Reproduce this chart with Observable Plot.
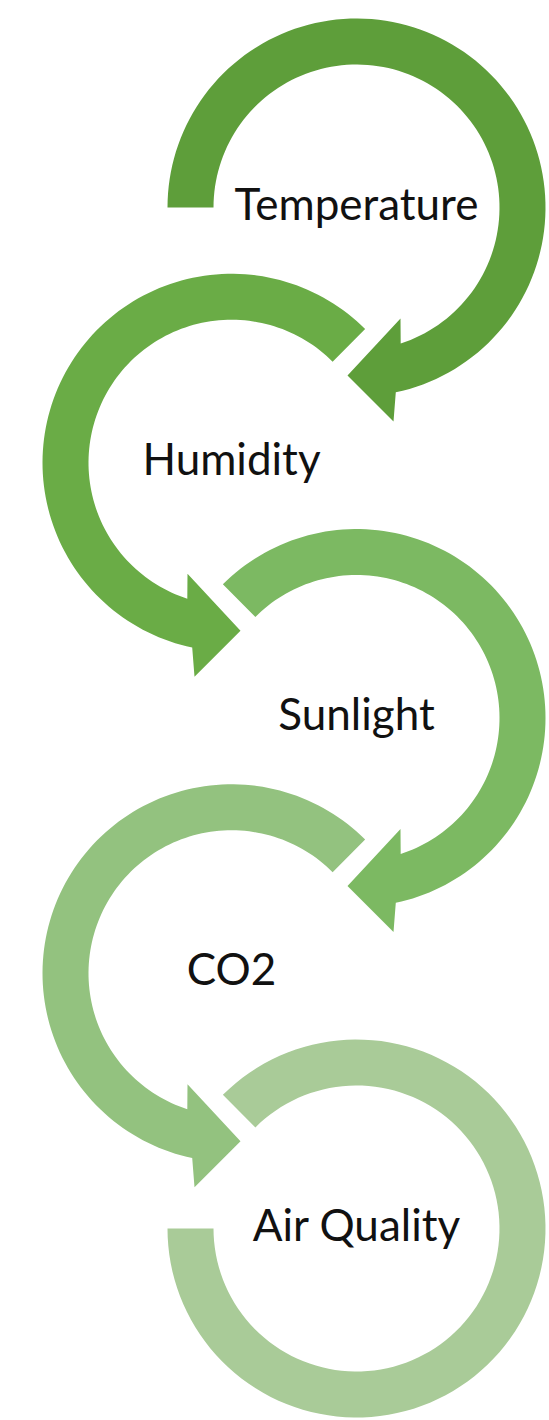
<!DOCTYPE html>
<html>
<head>
<meta charset="utf-8">
<script src="https://cdn.jsdelivr.net/npm/d3@7"></script>
<script src="https://cdn.jsdelivr.net/npm/@observablehq/plot@0.6"></script>
<style>
  html, body { margin: 0; padding: 0; background: #ffffff; }
  #chart svg { display: block; }
</style>
</head>
<body>
<div id="chart"></div>
<script>
// ---- data ----
const steps  = ["Temperature", "Humidity", "Sunlight", "CO2", "Air Quality"];
const colors = ["#5e9e3a", "#6aac46", "#7cb962", "#93c27f", "#a9cb98"];
const sides  = ["right", "left", "right", "left", "right"];

// ---- layout (diagram geometry) ----
const W = 549, H = 1420;
const R = 189, r = 143;            // outer / inner radius of each ring
const top0 = 207, rowStep = 255.25;
const cxRight = 356, cxLeft = 231;

function ringCenter(i) {
  return [sides[i] === "right" ? cxRight : cxLeft, top0 + i * rowStep];
}

function ringShape(i) {
  const [cx, cy] = ringCenter(i);
  const s = sides[i] === "right" ? 1 : -1;
  const last = i === steps.length - 1;
  const start = i === 0 ? -90 : -45;
  const endOuter = last ? 270 : 168;
  const endInner = last ? 270 : 162;
  const P = (rho, deg) => {
    const a = deg * Math.PI / 180;
    return [cx + s * rho * Math.sin(a), cy - rho * Math.cos(a)];
  };
  const pts = [];
  const N = 120;
  for (let k = 0; k <= N; k++) pts.push(P(R, start + (endOuter - start) * k / N));
  if (!last) {
    pts.push([cx + s * 37, cy + 214]);  // outer barb
    pts.push([cx - s * 9,  cy + 168]);  // tip
    pts.push([cx + s * 44, cy + 111]);  // inner barb
  }
  for (let k = N; k >= 0; k--) pts.push(P(r, start + (endInner - start) * k / N));
  return pts.map(([x, y], j) => ({step: steps[i], j, x, y}));
}

const shapeRows = steps.flatMap((_, i) => ringShape(i));
const labelRows = steps.map((step, i) => {
  const [x, y] = ringCenter(i);
  return {step, x, y: y - 2};
});

const chart = Plot.plot({
  width: W,
  height: H,
  margin: 0,
  style: {background: "#ffffff"},
  x: {domain: [0, W], range: [0, W], axis: null},
  y: {domain: [0, H], range: [0, H], axis: null},
  color: {domain: steps, range: colors},
  marks: [
    Plot.line(shapeRows, {
      x: "x", y: "y", z: "step", fill: "step", stroke: "none",
      curve: "linear-closed"
    }),
    Plot.text(labelRows, {
      x: "x", y: "y", text: "step",
      fontSize: 44, fontFamily: "Lato", fill: "#111111",
      textAnchor: "middle", lineAnchor: "middle"
    })
  ]
});
document.getElementById("chart").appendChild(chart);
</script>
</body>
</html>
